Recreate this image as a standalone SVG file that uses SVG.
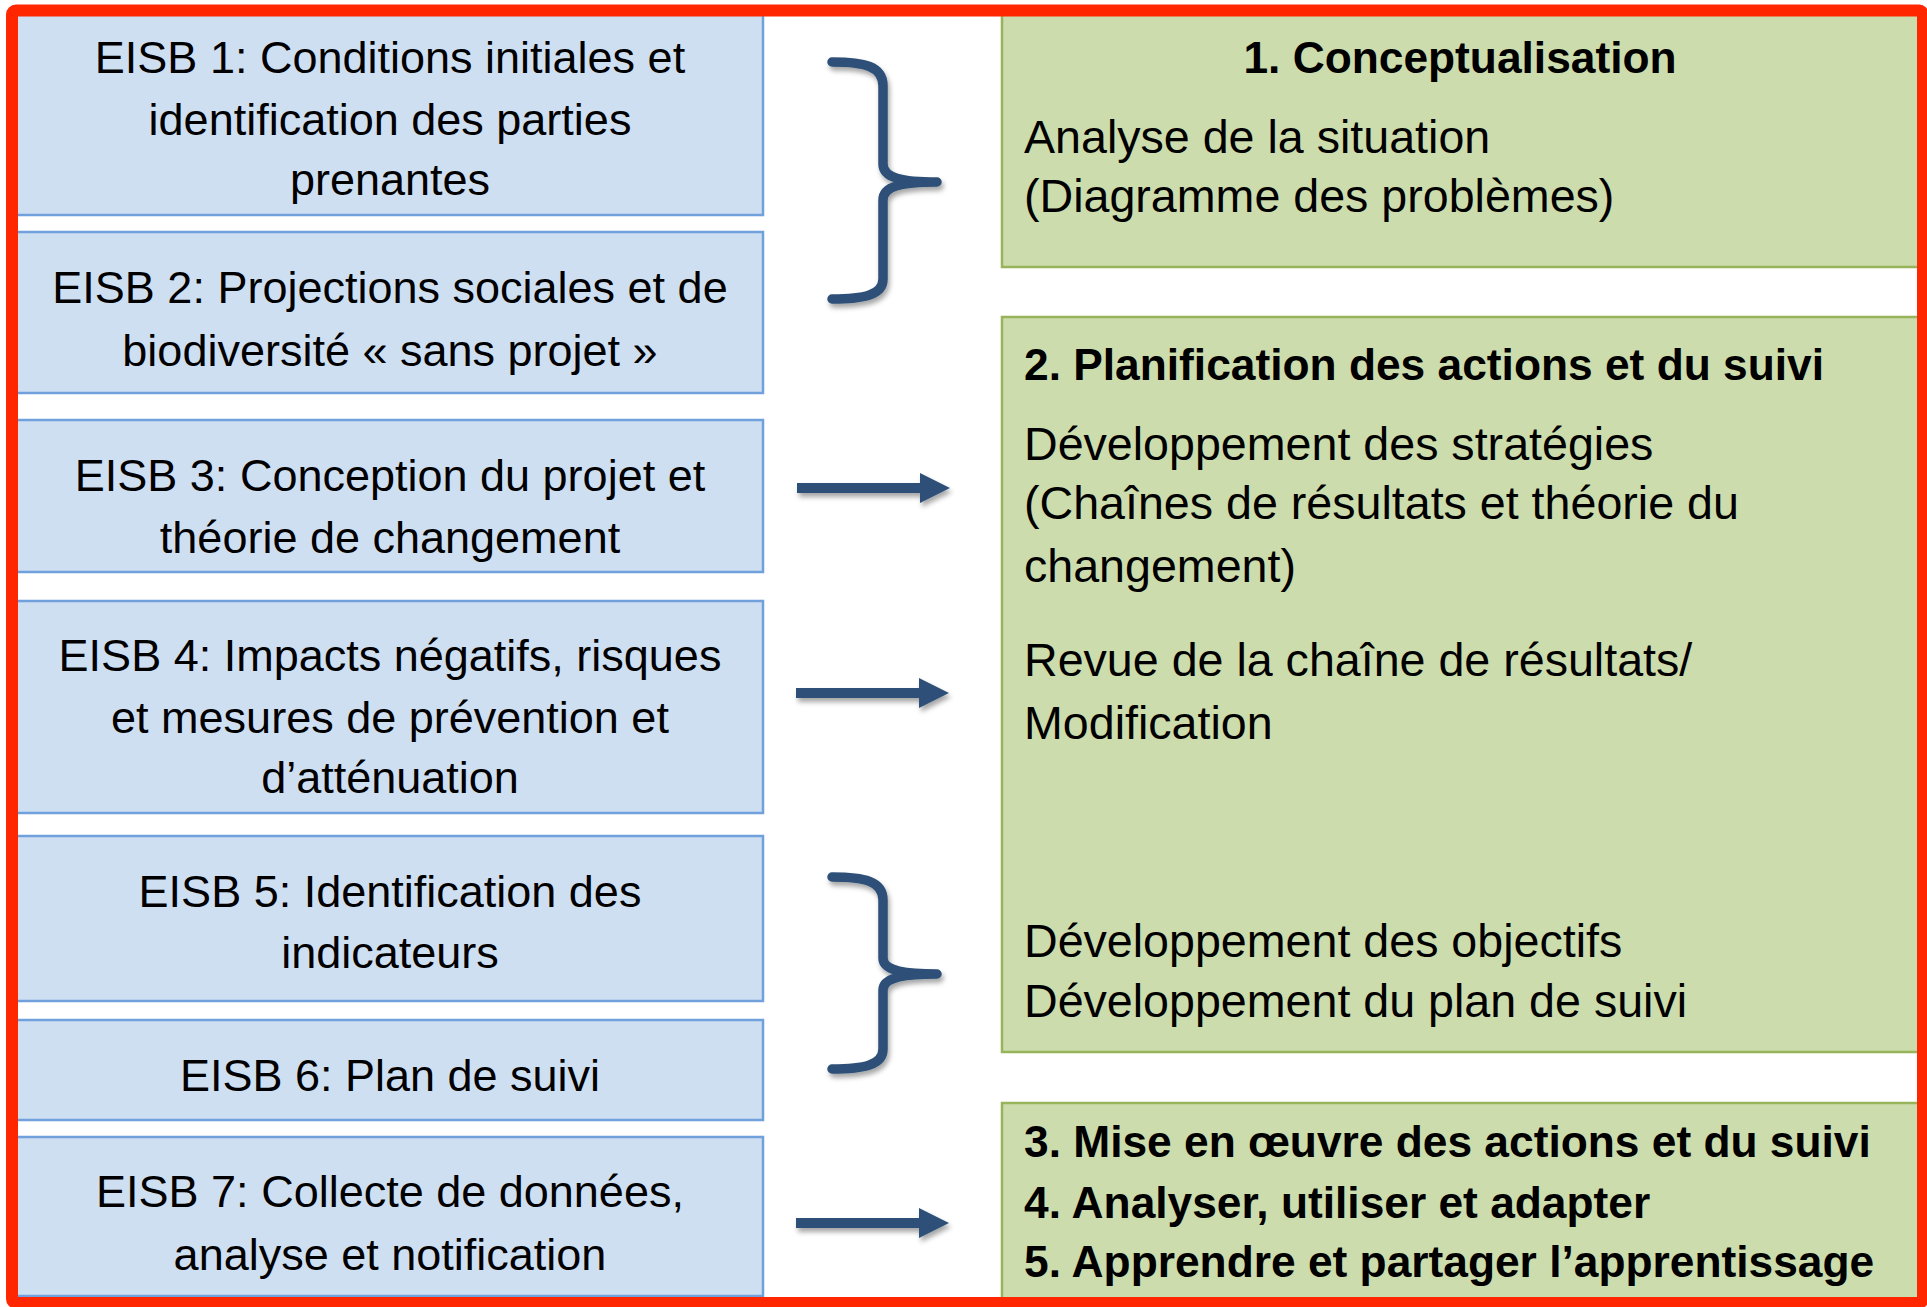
<svg xmlns="http://www.w3.org/2000/svg" width="1927" height="1307" viewBox="0 0 1927 1307">
<defs>
<filter id="sh" x="-20%" y="-30%" width="150%" height="180%">
<feDropShadow dx="2" dy="4" stdDeviation="2.5" flood-color="#000" flood-opacity="0.35"/>
</filter>
<path id="arrow" d="M797,483 H920 V473 L950,488 L920,503 V493 H797 Z"/>
</defs>
<style>
.lb{fill:#cfdff2;stroke:#71a1dc;stroke-width:2.5}
.gb{fill:#cddcac;stroke:#97b45a;stroke-width:2.5}
.t{font-family:"Liberation Sans",Arial,sans-serif;font-size:45px;fill:#000}
.tc{text-anchor:middle}
.r{font-size:46.6px}
.b{font-weight:bold;font-size:44.3px}
.br{fill:none;stroke:#2e5077;stroke-width:9.5;stroke-linecap:round;stroke-linejoin:round}
.ar{fill:#2e5077}
</style>
<rect width="1927" height="1307" fill="#fff"/>

<g id="eisb1"><rect class="lb" x="16" y="12" width="747" height="203"/>
<text class="t tc" x="390" y="73">EISB 1: Conditions initiales et</text>
<text class="t tc" x="390" y="135">identification des parties</text>
<text class="t tc" x="390" y="195">prenantes</text></g>

<g id="eisb2"><rect class="lb" x="16" y="232" width="747" height="161"/>
<text class="t tc" x="390" y="303">EISB 2: Projections sociales et de</text>
<text class="t tc" x="390" y="366">biodiversité « sans projet »</text></g>

<g id="eisb3"><rect class="lb" x="16" y="420" width="747" height="152"/>
<text class="t tc" x="390" y="491">EISB 3: Conception du projet et</text>
<text class="t tc" x="390" y="553">théorie de changement</text></g>

<g id="eisb4"><rect class="lb" x="16" y="601" width="747" height="212"/>
<text class="t tc" x="390" y="671">EISB 4: Impacts négatifs, risques</text>
<text class="t tc" x="390" y="733">et mesures de prévention et</text>
<text class="t tc" x="390" y="793">d’atténuation</text></g>

<g id="eisb5"><rect class="lb" x="16" y="836" width="747" height="165"/>
<text class="t tc" x="390" y="907">EISB 5: Identification des</text>
<text class="t tc" x="390" y="968">indicateurs</text></g>

<g id="eisb6"><rect class="lb" x="16" y="1020" width="747" height="100"/>
<text class="t tc" x="390" y="1091">EISB 6: Plan de suivi</text></g>

<g id="eisb7"><rect class="lb" x="16" y="1137" width="747" height="159"/>
<text class="t tc" x="390" y="1207">EISB 7: Collecte de données,</text>
<text class="t tc" x="390" y="1270">analyse et notification</text></g>

<g id="step1"><rect class="gb" x="1002" y="12" width="920" height="255"/>
<text class="t b tc" x="1460" y="73">1. Conceptualisation</text>
<text class="t r" x="1024" y="153">Analyse de la situation</text>
<text class="t r" x="1024" y="212">(Diagramme des problèmes)</text></g>

<g id="step2"><rect class="gb" x="1002" y="317" width="920" height="735"/>
<text class="t b" x="1024" y="380">2. Planification des actions et du suivi</text>
<text class="t r" x="1024" y="460">Développement des stratégies</text>
<text class="t r" x="1024" y="519">(Chaînes de résultats et théorie du</text>
<text class="t r" x="1024" y="582">changement)</text>
<text class="t r" x="1024" y="676">Revue de la chaîne de résultats/</text>
<text class="t r" x="1024" y="739">Modification</text>
<text class="t r" x="1024" y="957">Développement des objectifs</text>
<text class="t r" x="1024" y="1017">Développement du plan de suivi</text></g>

<g id="step3"><rect class="gb" x="1002" y="1103" width="920" height="197"/>
<text class="t b" x="1024" y="1157">3. Mise en œuvre des actions et du suivi</text>
<text class="t b" x="1024" y="1218">4. Analyser, utiliser et adapter</text>
<text class="t b" x="1024" y="1277">5. Apprendre et partager l’apprentissage</text></g>

<g id="connectors" filter="url(#sh)">
<path class="br" d="M832,62 C864,62 883,66 883,86 L883,164 C883,178 902,182 937,182 C902,182 883,186 883,200 L883,279 C883,295 864,299 832,299"/>
<path class="br" d="M832,877 C864,877 883,881 883,900 L883,958 C883,970 902,974 937,974 C902,974 883,978 883,990 L883,1049 C883,1065 864,1069 832,1069"/>
<use href="#arrow" class="ar"/>
<use href="#arrow" class="ar" transform="translate(-1,205)"/>
<use href="#arrow" class="ar" transform="translate(-1,735)"/>
</g>

<rect x="12" y="10.5" width="1911" height="1292.5" rx="4" fill="none" stroke="#ff2600" stroke-width="12"/>
</svg>
